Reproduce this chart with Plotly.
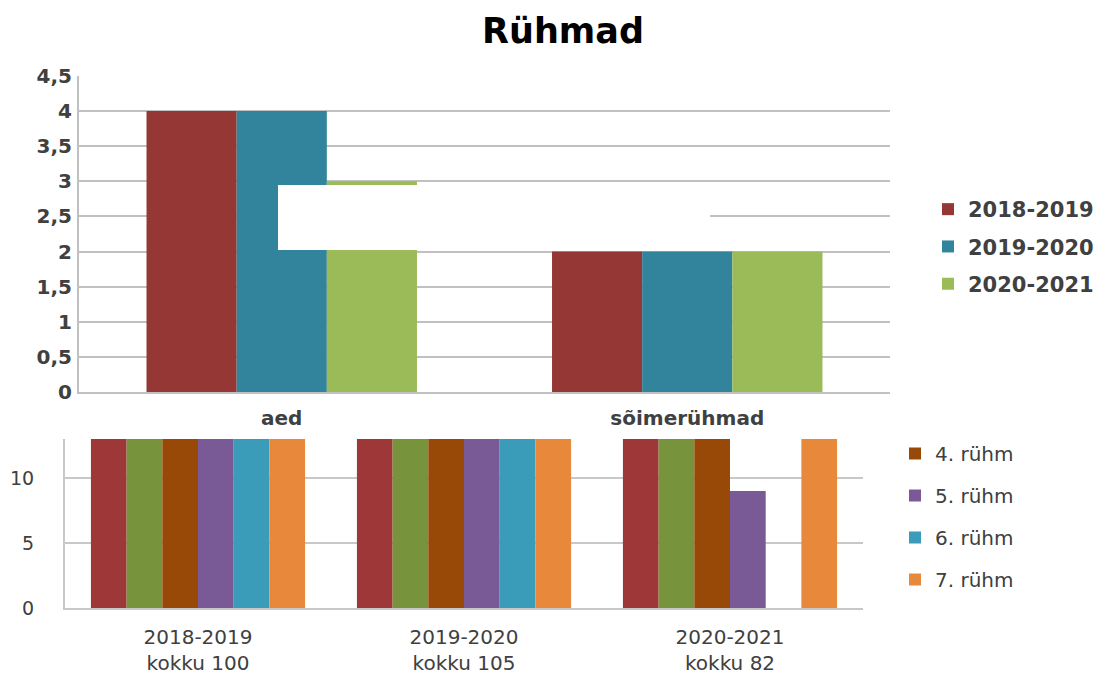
import plotly.graph_objects as go

# ---------------- data ----------------
top_categories = ["aed", "sõimerühmad"]
top_years = ["2018-2019", "2019-2020", "2020-2021"]
top_2018_2019 = [4, 2]
top_2019_2020 = [4, 2]
top_2020_2021 = [3, 2]

bottom_categories = ["2018-2019", "2019-2020", "2020-2021"]
bottom_totals = [100, 105, 82]
ruhm_names = ["2. rühm", "3. rühm", "4. rühm", "5. rühm", "6. rühm", "7. rühm"]
ruhm_2 = [17, 18, 18]
ruhm_3 = [17, 17, 18]
ruhm_4 = [16, 18, 19]
ruhm_5 = [17, 17, 9]
ruhm_6 = [16, 18, None]
ruhm_7 = [17, 17, 18]

# ---------------- style ----------------
FONT = "DejaVu Sans"
PAGE = 8  # default body margin of the html page
W, H = 1108 - PAGE, 674 - PAGE
top_colors = ["#953735", "#31849B", "#9BBB59"]
bottom_colors = ["#9E3838", "#77933C", "#984807", "#7A5A96", "#3A9CB8", "#E8883A"]
bottom_legend_visible = [False, False, True, True, True, True]
grid = "#C0C0C0"
txt = "#404040"

fig = go.Figure()

top_series = [top_2018_2019, top_2019_2020, top_2020_2021]
n_top = len(top_series)
grp_top = 0.667
w_top = grp_top / n_top
for i, (name, vals, col) in enumerate(zip(top_years, top_series, top_colors)):
    fig.add_trace(go.Bar(
        x=top_categories, y=vals, name=name, marker=dict(color=col, line=dict(width=0)),
        width=w_top, offset=-grp_top / 2 + i * w_top,
        xaxis="x", yaxis="y", legend="legend", legendgroup=name,
    ))

bottom_series = [ruhm_2, ruhm_3, ruhm_4, ruhm_5, ruhm_6, ruhm_7]
bottom_labels = [f"{c}<br>kokku {t}" for c, t in zip(bottom_categories, bottom_totals)]
n_b = len(bottom_series)
grp_b = 0.805
w_b = grp_b / n_b
for i, (name, vals, col, show) in enumerate(zip(ruhm_names, bottom_series, bottom_colors, bottom_legend_visible)):
    fig.add_trace(go.Bar(
        x=bottom_labels, y=vals, name=name,
        marker=dict(color=col, line=dict(width=0)),
        width=w_b, offset=-grp_b / 2 + i * w_b,
        xaxis="x2", yaxis="y2", legend="legend2", legendgroup=name, showlegend=show,
    ))

def px_x(p):
    return (p - PAGE) / W

def px_y(p):
    return 1 - (p - PAGE) / H

fig.update_layout(
    width=W, height=H,
    margin=dict(l=0, r=0, t=0, b=0, autoexpand=False),
    paper_bgcolor="white", plot_bgcolor="white",
    separators=", ",
    barmode="group",
    font=dict(family=FONT, color=txt),
    title=dict(text="<b>Rühmad</b>", x=px_x(563), y=px_y(31), xanchor="center", yanchor="middle",
               font=dict(family=FONT, size=35, color="#000000"), automargin=False),
    xaxis=dict(domain=[px_x(79), px_x(890)], anchor="y", showline=True, linecolor=grid, linewidth=2,
               showgrid=False, ticks="", automargin=False, ticklabelstandoff=7,
               tickfont=dict(family=FONT, size=20, color=txt, weight="bold"),
               fixedrange=True),
    yaxis=dict(domain=[px_y(392), px_y(76)], anchor="x", range=[0, 4.5], dtick=0.5, tick0=0,
               showline=True, linecolor=grid, linewidth=2, gridcolor=grid, gridwidth=2,
               zeroline=False, ticks="", ticklabelstandoff=1, automargin=False,
               tickfont=dict(family=FONT, size=20, color=txt, weight="bold")),
    xaxis2=dict(domain=[px_x(65), px_x(863)], anchor="y2", showline=True, linecolor="#C8C8C8", linewidth=2,
                showgrid=False, ticks="", automargin=False, ticklabelstandoff=10,
                tickfont=dict(family=FONT, size=20, color=txt)),
    yaxis2=dict(domain=[px_y(608), px_y(439)], anchor="x2", range=[0, 13], dtick=5, tick0=0,
                showline=True, linecolor="#C8C8C8", linewidth=2, gridcolor="#C8C8C8", gridwidth=2,
                zeroline=False, ticks="", ticklabelstandoff=25, automargin=False,
                tickfont=dict(family=FONT, size=19, color=txt)),
    legend=dict(x=px_x(928), y=px_y(246.5), xanchor="left", yanchor="middle",
                traceorder="grouped", tracegroupgap=7, bgcolor="rgba(0,0,0,0)",
                font=dict(family=FONT, size=21, color=txt, weight="bold")),
    legend2=dict(x=px_x(895), y=px_y(516.5), xanchor="left", yanchor="middle",
                 traceorder="grouped", tracegroupgap=13, bgcolor="rgba(0,0,0,0)",
                 font=dict(family=FONT, size=20, color=txt)),
    shapes=[dict(type="rect", xref="paper", yref="paper", layer="above",
                 x0=px_x(278), x1=px_x(710), y0=px_y(250), y1=px_y(185),
                 fillcolor="white", line=dict(width=0))],
)

fig.write_html("out.html")
